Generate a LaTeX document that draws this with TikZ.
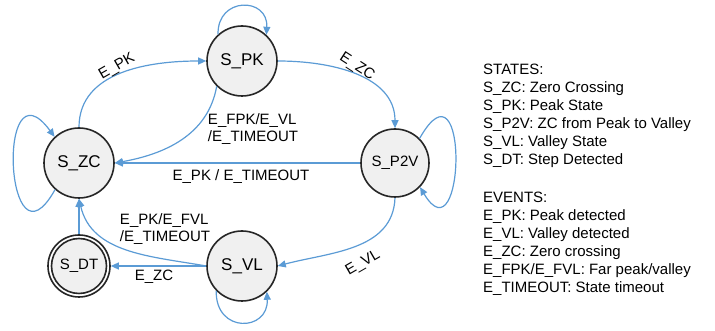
\documentclass[tikz,border=0pt]{standalone}
\usepackage{fontspec}
\setmainfont{Liberation Sans}
\usetikzlibrary{arrows.meta}
\definecolor{arr}{RGB}{91,155,213}
\definecolor{bord}{RGB}{38,38,38}
\definecolor{stfill}{RGB}{240,240,240}
\tikzset{
  st/.style={circle, draw=bord, fill=stfill, line width=1.6pt, minimum size=70pt, inner sep=0pt, font=\fontsize{17}{20}\selectfont},
  stsmall/.style={st, font=\fontsize{15}{18}\selectfont},
  tr/.style={draw=arr, line width=1.2pt, -{Triangle[length=8pt,width=7pt]}},
  lbl/.style={font=\fontsize{15}{17}\selectfont, inner sep=0pt, align=left},
  leg/.style={font=\fontsize{15}{18}\selectfont, inner sep=0pt, anchor=base west}
}
\begin{document}
\begin{tikzpicture}[x=1pt,y=1pt]
\useasboundingbox (0,0) rectangle (715,331);
% states
\node[st] (PK) at (242,270) {S\_PK};
\node[st] (ZC) at (79,168) {S\_ZC};
\node[stsmall, minimum size=68pt] (P2V) at (395,168) {S\_P2V};
\node[st] (VL) at (242,65) {S\_VL};
\node[stsmall, fill=white, minimum size=62pt] (DT) at (79,65) {};
\draw[draw=bord, fill=stfill, line width=1.6pt] (DT.center) circle (27.5pt);
\node[font=\fontsize{15}{18}\selectfont, inner sep=0pt] (DTt) at (DT.center) {S\_DT};
% transitions
\draw[tr] (ZC.north) to[out=90,in=180] (PK.west);
\draw[tr] (PK.-135) to[out=-100,in=10] (ZC.east);
\draw[tr] (PK.east) to[out=0,in=90] (P2V.north);
\draw[tr] (P2V.west) -- (ZC.east);
\draw[tr] (P2V.south) to[out=-92,in=15] (VL.east);
\draw[tr] (VL.west) to[out=170,in=-77] (ZC.south);
\draw[tr] (VL.west) -- (DT.east);
\draw[tr] (DT.north) -- (ZC.south);
% self loops
\draw[tr] (PK.132) .. controls +(-1,38) and +(2,38) .. (PK.47);
\draw[tr] (ZC.-132) .. controls +(-50,-90) and +(-59,80) .. (ZC.133);
\draw[tr] (P2V.45) .. controls +(50,88) and +(45,-75) .. (P2V.-44);
\draw[tr] (VL.-136) .. controls +(-1,-43) and +(2,-40) .. (VL.-46);
% edge labels
\node[lbl, rotate=30] (l1) at (117,264) {E\_PK};
\node[lbl] (l2) at (253,202) {E\_FPK/E\_VL\\/E\_TIMEOUT};
\node[lbl, rotate=-33] (l3) at (357,264) {E\_ZC};
\node[lbl] (l4) at (241,154) {E\_PK / E\_TIMEOUT};
\node[lbl, rotate=30] (l5) at (363,68) {E\_VL};
\node[lbl] (l6) at (165,102) {E\_PK/E\_FVL\\/E\_TIMEOUT};
\node[lbl] (l7) at (154,54) {E\_ZC};
% legend
\node[leg] (g1) at (483,256) {STATES:};
\node[leg] (g2) at (483,238) {S\_ZC: Zero Crossing};
\node[leg] (g3) at (483,220) {S\_PK: Peak State};
\node[leg] (g4) at (483,202) {S\_P2V: ZC from Peak to Valley};
\node[leg] (g5) at (483,184) {S\_VL: Valley State};
\node[leg] (g6) at (483,166) {S\_DT: Step Detected};
\node[leg] (g7) at (483,128.5) {EVENTS:};
\node[leg] (g8) at (483,110.5) {E\_PK: Peak detected};
\node[leg] (g9) at (483,92.5) {E\_VL: Valley detected};
\node[leg] (g10) at (483,74.5) {E\_ZC: Zero crossing};
\node[leg] (g11) at (483,56.5) {E\_FPK/E\_FVL: Far peak/valley};
\node[leg] (g12) at (483,38.5) {E\_TIMEOUT: State timeout};
\end{tikzpicture}
\end{document}
